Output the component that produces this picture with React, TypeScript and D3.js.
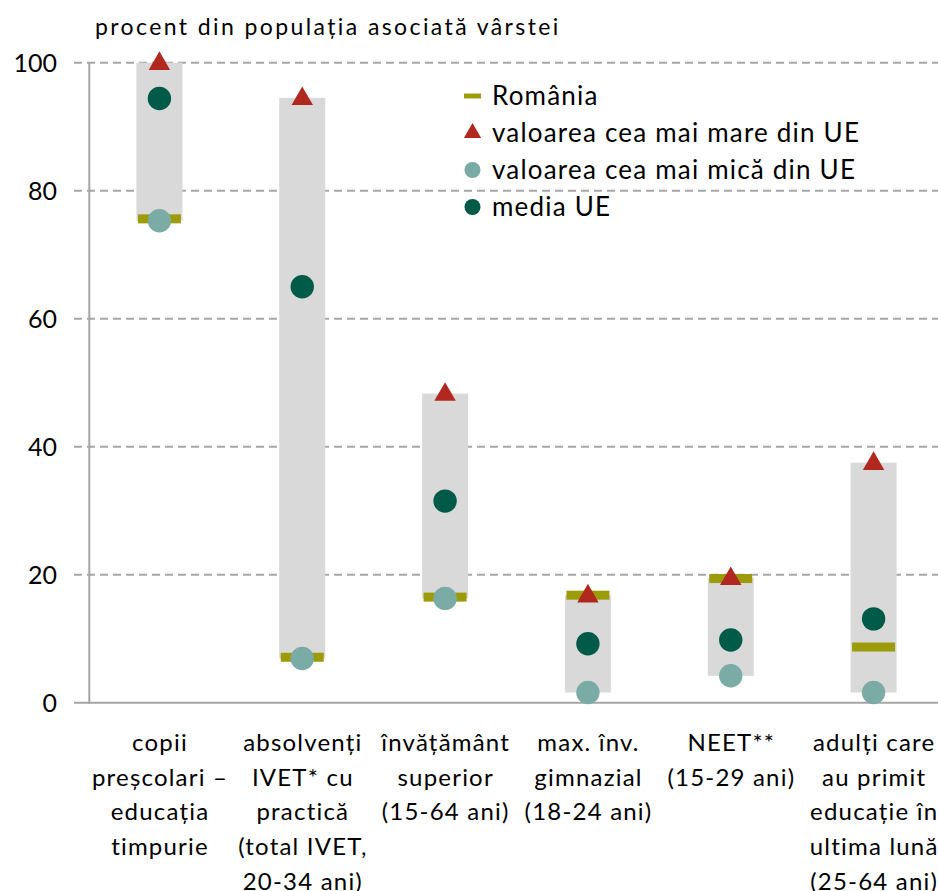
import React from "react";
import * as d3 from "d3";

const categories: string[][] = [
  ["copii", "preșcolari –", "educația", "timpurie"],
  ["absolvenți", "IVET* cu", "practică", "(total IVET,", "20-34 ani)"],
  ["învățământ", "superior", "(15-64 ani)"],
  ["max. înv.", "gimnazial", "(18-24 ani)"],
  ["NEET**", "(15-29 ani)"],
  ["adulți care", "au primit", "educație în", "ultima lună", "(25-64 ani)"],
];
const romania = [75.6, 7.1, 16.5, 16.8, 19.4, 8.7];
const maxEU = [100, 94.5, 48.3, 16.8, 19.5, 37.5];
const minEU = [75.3, 6.9, 16.3, 1.6, 4.2, 1.6];
const avgEU = [94.4, 65.0, 31.5, 9.2, 9.8, 13.1];
const yTicks = [0, 20, 40, 60, 80, 100];
const legendLabels = ["România", "valoarea cea mai mare din UE", "valoarea cea mai mică din UE", "media UE"];
const title = "procent din populația asociată vârstei";

const FONT = "Lato, 'Open Sans', sans-serif";
const C_RO = "#9c9c0a";
const C_MAX = "#b0281e";
const C_MIN = "#7aaba4";
const C_AVG = "#005a48";

export default function App() {
  const x = d3.scaleBand<number>().domain(d3.range(categories.length)).range([88, 945]);
  const y = d3.scaleLinear().domain([0, 100]).range([702.7, 62.7]);
  const cx = (i: number) => (x(i) as number) + x.bandwidth() / 2;
  const tri = d3.symbol().type(d3.symbolTriangle).size(200)();
  const triLeg = d3.symbol().type(d3.symbolTriangle).size(130)();

  return (
    <svg width={938} height={891} style={{ position: "absolute", left: 0, top: 0, background: "#fff" }} fontFamily={FONT}>
      <text x={95} y={35} fontSize={23} letterSpacing={2.4} fill="#000">{title}</text>
      {yTicks.map((t) => (
        <g key={t}>
          {t > 0 && (
            <line x1={74} x2={940} y1={y(t)} y2={y(t)} stroke="#a6a6a6" strokeWidth={2} strokeDasharray="8,5" />
          )}
          <text x={57} y={y(t)} dy="0.36em" textAnchor="end" fontSize={25} fill="#000">{t}</text>
        </g>
      ))}
      <line x1={89.3} x2={89.3} y1={62} y2={703.7} stroke="#a6a6a6" strokeWidth={2} />
      <line x1={74} x2={940} y1={702.7} y2={702.7} stroke="#a6a6a6" strokeWidth={2} />
      {categories.map((_, i) => (
        <rect key={"b" + i} x={cx(i) - 23} width={46} y={y(maxEU[i])} height={y(minEU[i]) - y(maxEU[i])} fill="#d9d9d9" />
      ))}
      {categories.map((_, i) => (
        <g key={"m" + i}>
          <rect x={cx(i) - 21.5} width={43} y={y(romania[i]) - 4.5} height={9} fill={C_RO} />
          <path d={tri as string} transform={`translate(${cx(i)},${y(maxEU[i]) + 1})`} fill={C_MAX} />
          <circle cx={cx(i)} cy={y(minEU[i])} r={11.7} fill={C_MIN} />
          <circle cx={cx(i)} cy={y(avgEU[i])} r={11.7} fill={C_AVG} />
        </g>
      ))}
      {categories.map((lines, i) => (
        <text key={"c" + i} x={cx(i)} y={751} textAnchor="middle" fontSize={24} letterSpacing={1.2} fill="#000">
          {lines.map((l, j) => (
            <tspan key={j} x={cx(i) + 0.6} y={751 + j * 34.7}>{l}</tspan>
          ))}
        </text>
      ))}
      <g>
        {legendLabels.map((l, k) => {
          const ly = 96 + k * 37;
          return (
            <g key={l}>
              {k === 0 && <rect x={464} y={ly - 2.5} width={17} height={5} fill={C_RO} />}
              {k === 1 && <path d={triLeg as string} transform={`translate(472.5,${ly})`} fill={C_MAX} />}
              {k === 2 && <circle cx={472.5} cy={ly} r={8} fill={C_MIN} />}
              {k === 3 && <circle cx={472.5} cy={ly} r={8} fill={C_AVG} />}
              <text x={492} y={ly} dy="0.36em" fontSize={26} letterSpacing={1.2} fill="#000">{l}</text>
            </g>
          );
        })}
      </g>
    </svg>
  );
}
